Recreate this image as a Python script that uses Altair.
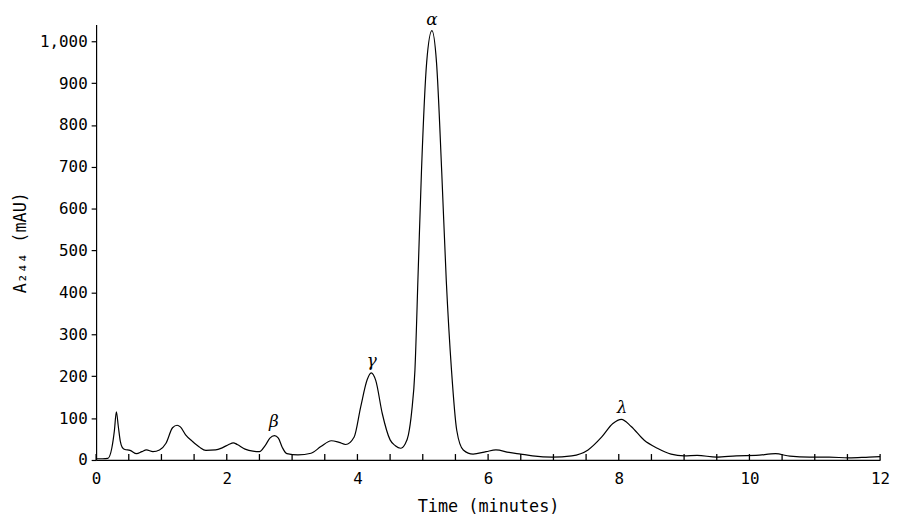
import altair as alt
import pandas as pd

# Chromatogram trace
time_min = [0.0, 0.1, 0.18, 0.24, 0.28, 0.31, 0.34, 0.37, 0.40, 0.44, 0.52, 0.62, 0.70, 0.77, 0.87, 0.97,
            1.07, 1.17, 1.24, 1.29, 1.37, 1.47, 1.58, 1.68, 1.83, 1.93, 2.03, 2.10, 2.16, 2.28,
            2.40, 2.50, 2.59, 2.66, 2.73, 2.79, 2.85, 2.92, 3.09, 3.29, 3.44, 3.60, 3.72, 3.82,
            3.95, 4.05, 4.15, 4.21, 4.28, 4.38, 4.50, 4.58, 4.66, 4.73, 4.78, 4.83, 4.88, 4.93,
            4.98, 5.06, 5.14, 5.21, 5.29, 5.36, 5.44, 5.52, 5.62, 5.77, 5.97, 6.12, 6.32, 6.50,
            6.68, 6.98, 7.28, 7.53, 7.74, 7.91, 8.04, 8.19, 8.39, 8.59, 8.80, 9.0, 9.2, 9.5,
            9.8, 10.1, 10.4, 10.62, 10.92, 11.22, 11.52, 11.83, 12.0]
absorbance = [3, 3, 4, 28, 70, 115, 80, 45, 30, 25, 23, 15, 20, 24, 20, 24,
              40, 77, 83, 79, 60, 45, 31, 23, 24, 29, 37, 41, 37, 26,
              21, 20, 35, 52, 58, 52, 30, 15, 12, 16, 32, 46, 42, 37,
              55, 127, 192, 208, 190, 111, 48, 34, 28, 38, 60, 115, 214, 451,
              689, 950, 1025, 950, 689, 428, 214, 71, 24, 14, 20, 24, 18, 14,
              10, 7, 10, 24, 55, 87, 97, 80, 47, 28, 14, 10, 11, 7,
              10, 11, 15, 9, 7, 7, 5, 7, 8]

# Peak labels
peak_names = ["β", "γ", "α", "λ"]
peak_time = [2.72, 4.22, 5.14, 8.05]
peak_label_y = [90, 237, 1050, 125]

# Axis ticks
x_label_values = [0, 2, 4, 6, 8, 10, 12]
x_tick_values = [0, 0.5, 1, 1.5, 2, 2.5, 3, 3.5, 4, 4.5, 5, 5.5, 6, 6.5, 7, 7.5, 8,
                 8.5, 9, 9.5, 10, 10.5, 11, 11.5, 12]
y_tick_values = [0, 100, 200, 300, 400, 500, 600, 700, 800, 900, 1000]

W, H = 792, 440
MONO = "DejaVu Sans Mono"

trace = pd.DataFrame({"t": time_min, "v": absorbance})
labels = pd.DataFrame({"t": peak_time, "v": peak_label_y, "name": peak_names})
xt = pd.DataFrame({"t": x_tick_values})

xscale = alt.Scale(domain=[0, 12], nice=False)
yscale = alt.Scale(domain=[0, 1040], nice=False)

xaxis = alt.Axis(values=x_label_values, format="d", tickSize=0, labelPadding=11,
                 labelFlush=False, title="Time (minutes)", titlePadding=12, grid=False,
                 domainColor="black", domainWidth=1.3,
                 labelFont=MONO, labelFontSize=16, labelColor="black",
                 titleFont=MONO, titleFontSize=17, titleFontWeight="normal",
                 titleColor="black")
yaxis = alt.Axis(values=y_tick_values, format=",d", tickSize=5, tickColor="black",
                 tickWidth=1.2, labelPadding=4,
                 labelFlush=False, title="A₂₄₄ (mAU)", titlePadding=10, grid=False,
                 domainColor="black", domainWidth=1.2,
                 labelFont=MONO, labelFontSize=16, labelColor="black",
                 titleFont=MONO, titleFontSize=17, titleFontWeight="normal",
                 titleColor="black")

line = alt.Chart(trace).mark_line(color="black", strokeWidth=1.2, interpolate="monotone").encode(
    x=alt.X("t:Q", scale=xscale, axis=xaxis),
    y=alt.Y("v:Q", scale=yscale, axis=yaxis),
)

xticks = alt.Chart(xt).mark_rule(color="black", strokeWidth=1.3).encode(
    x=alt.X("t:Q", scale=xscale, axis=xaxis),
    y=alt.value(H - 6),
    y2=alt.value(H),
)

text = alt.Chart(labels).mark_text(font="DejaVu Serif", fontStyle="italic", fontSize=17,
                                   color="black").encode(
    x=alt.X("t:Q", scale=xscale, axis=xaxis),
    y=alt.Y("v:Q", scale=yscale, axis=yaxis),
    text="name:N",
)

chart = alt.layer(line, xticks, text).properties(
    width=W, height=H,
    padding={"left": 3, "top": 0, "right": 0, "bottom": 0},
    background="white",
).configure_view(stroke=None)

chart.save("out.html", embed_options={"renderer": "svg", "actions": False})
